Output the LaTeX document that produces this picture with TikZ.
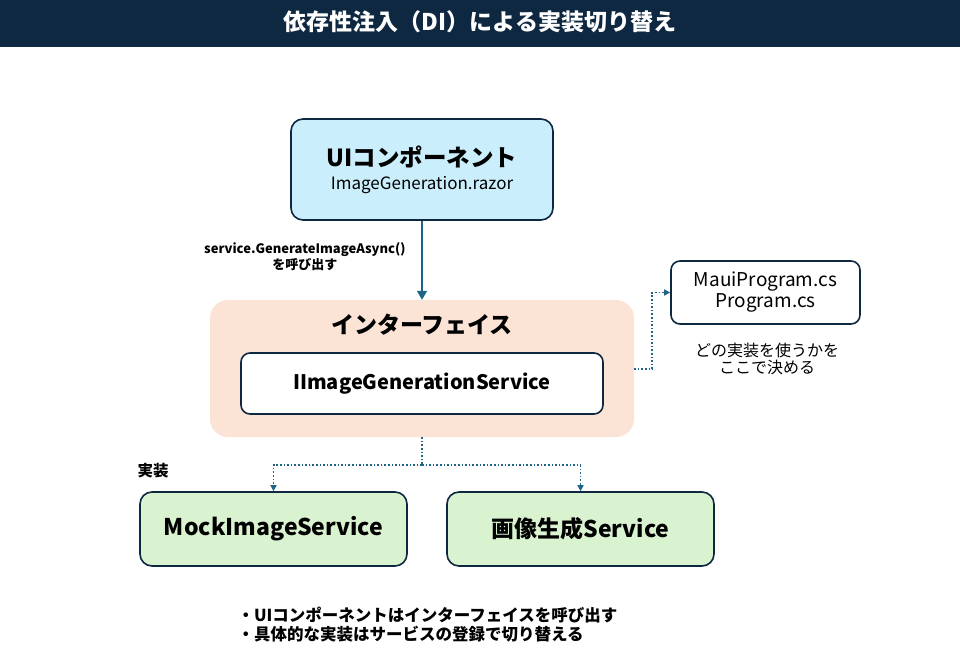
\documentclass[tikz,border=0pt]{standalone}
\usepackage{fontspec}
\setmainfont{Noto Sans CJK JP}
\usetikzlibrary{arrows.meta}

\definecolor{navy}{HTML}{0E2841}
\definecolor{linkblue}{HTML}{1D6486}
\definecolor{uiblue}{HTML}{CAEEFB}
\definecolor{peach}{HTML}{FBE3D6}
\definecolor{mint}{HTML}{D9F2D0}

\tikzset{
  card/.style={draw=navy, line width=1.6pt, rounded corners=12pt, align=center},
  callarrow/.style={draw=linkblue, line width=1.6pt, -{Triangle[length=9pt,width=10pt]}},
  diarrow/.style={draw=linkblue, line width=1.6pt, dotted, -{Triangle[length=6pt,width=6pt]}},
  note/.style={align=center, font=\bfseries\fontsize{13}{16}\selectfont}
}

\begin{document}
\begin{tikzpicture}[x=1pt, y=-1pt]
\useasboundingbox (0,0) rectangle (960,667);

% header
\fill[navy] (0,0) rectangle (960,47);
\node[text=white, font=\bfseries\fontsize{23}{26}\selectfont] (title) at (480,22) {依存性注入（DI）による実装切り替え};

% ui component
\node[card, fill=uiblue, minimum width=262pt, minimum height=101pt] (ui) at (422,169.5) {};
\node[font=\bfseries\fontsize{23.5}{26}\selectfont] (uiname) at (422,157) {UIコンポーネント};
\node[font=\fontsize{17}{20}\selectfont] (uifile) at (422,185) {ImageGeneration.razor};

% interface
\node[fill=peach, rounded corners=18pt, minimum width=424pt, minimum height=137pt] (iface) at (422,368.5) {};
\node[font=\bfseries\fontsize{23}{26}\selectfont] (ifacename) at (422,325) {インターフェイス};
\node[card, fill=white, rounded corners=9pt, minimum width=362pt, minimum height=61pt, font=\bfseries\fontsize{20}{24}\selectfont] (isvc) at (422,383.5) {IImageGenerationService};

\draw[callarrow] (ui.south) -- (iface.north);
\node[note, anchor=east] (calllabel) at (409,257) {service.GenerateImageAsync()\\を呼び出す};

% registration
\node[card, fill=white, rounded corners=9pt, minimum width=189pt, minimum height=63pt, font=\fontsize{19}{21}\selectfont] (prog) at (765.5,292.5) {MauiProgram.cs\\Program.cs};
\node[align=center, font=\fontsize{16}{17}\selectfont] (prognote) at (767,358.5) {どの実装を使うかを\\ここで決める};
\coordinate (regout) at (iface.east |- 0,369);
\draw[diarrow] (regout) -- ++(18,0) |- (prog.west);

% implementations
\node[card, fill=mint, minimum width=267pt, minimum height=74pt, font=\bfseries\fontsize{23}{26}\selectfont] (mock) at (273.5,529) {MockImageService};
\node[card, fill=mint, minimum width=267pt, minimum height=74pt, font=\bfseries\fontsize{23}{26}\selectfont] (real) at (580.5,529) {画像生成Service};
\node[note, anchor=west, font=\bfseries\fontsize{15.5}{18}\selectfont] (impllabel) at (134,471) {実装};
\coordinate (split) at (422,465);
\draw[linkblue, line width=1.6pt, dotted] (iface.south) -- (split);
\draw[diarrow] (split) -| (mock.north);
\draw[diarrow] (split) -| (real.north);

% summary
\node[anchor=west, align=left, font=\bfseries\fontsize{16.5}{19}\selectfont] (summary) at (234,624.5) {・UIコンポーネントはインターフェイスを呼び出す\\・具体的な実装はサービスの登録で切り替える};
\end{tikzpicture}
\end{document}
